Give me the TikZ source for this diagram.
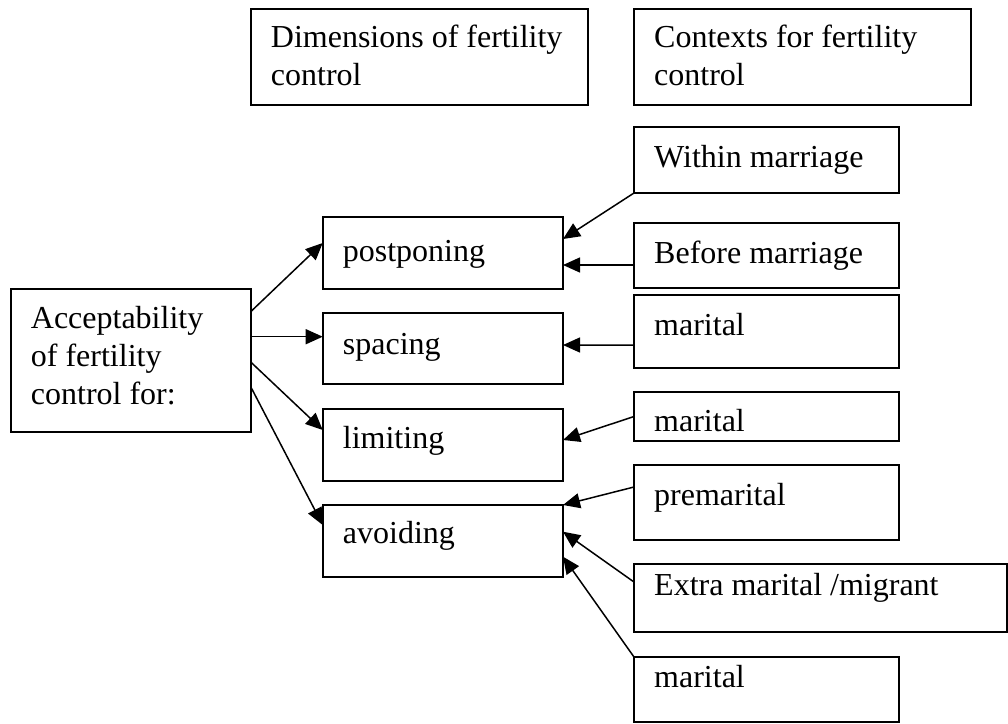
\documentclass[tikz,border=0pt]{standalone}
\usepackage{fontspec}
\setmainfont{Liberation Serif}
\usetikzlibrary{arrows.meta}
\newcommand\tnr{\fontsize{32}{38}\selectfont}
\tikzset{
  box/.style={draw, line width=1.7pt, rectangle, anchor=north west, inner sep=0pt, outer sep=0pt},
  lab/.style={anchor=base west, inner sep=0pt, font=\tnr},
  arr/.style={-{Triangle[length=17pt,width=15pt]}, line width=1.5pt}
}
\begin{document}
\begin{tikzpicture}[x=1pt,y=-1pt]
\useasboundingbox (0,0) rectangle (1008,723);
% header boxes
\node[box, minimum width=337.3pt, minimum height=96pt,
  label={[lab, xshift=20pt, yshift=-38pt]north west:{\parbox[t]{15cm}{Dimensions of fertility\\control}}}] (dim) at (250.7,9) {};
\node[box, minimum width=337pt, minimum height=96pt,
  label={[lab, xshift=20pt, yshift=-38pt]north west:{\parbox[t]{15cm}{Contexts for fertility\\control}}}] (ctx) at (634,9) {};
% left box
\node[box, minimum width=240pt, minimum height=143pt,
  label={[lab, xshift=20pt, yshift=-39pt]north west:{\parbox[t]{15cm}{Acceptability\\of fertility\\control for:}}}] (acc) at (10.7,289) {};
% dimensions
\node[box, minimum width=240.3pt, minimum height=72pt,
  label={[lab, xshift=20pt, yshift=-44.7pt]north west:postponing}] (post) at (322.7,217) {};
\node[box, minimum width=240.3pt, minimum height=71.3pt,
  label={[lab, xshift=20pt, yshift=-42pt]north west:spacing}] (spa) at (322.7,312.7) {};
\node[box, minimum width=240.3pt, minimum height=71.7pt,
  label={[lab, xshift=20pt, yshift=-39pt]north west:limiting}] (lim) at (322.7,409) {};
\node[box, minimum width=240.3pt, minimum height=71.7pt,
  label={[lab, xshift=20pt, yshift=-38pt]north west:avoiding}] (avo) at (322.7,505) {};
% contexts
\node[box, minimum width=265pt, minimum height=66pt,
  label={[lab, xshift=20pt, yshift=-40pt]north west:Within marriage}] (wm) at (634,127) {};
\node[box, minimum width=265pt, minimum height=65pt,
  label={[lab, xshift=20pt, yshift=-40pt]north west:Before marriage}] (bm) at (634,223) {};
\node[box, minimum width=265pt, minimum height=73pt,
  label={[lab, xshift=20pt, yshift=-40pt]north west:marital}] (mar1) at (634,295) {};
\node[box, minimum width=265pt, minimum height=49pt,
  label={[lab, xshift=20pt, yshift=-39pt]north west:marital}] (mar2) at (634,392) {};
\node[box, minimum width=265pt, minimum height=75pt,
  label={[lab, xshift=20pt, yshift=-40pt]north west:premarital}] (pre) at (634,465) {};
\node[box, minimum width=373pt, minimum height=68pt,
  label={[lab, xshift=20pt, yshift=-31pt]north west:Extra marital /migrant}] (ext) at (634,564) {};
\node[box, minimum width=265pt, minimum height=65pt,
  label={[lab, xshift=20pt, yshift=-30pt]north west:marital}] (mar3) at (634,657) {};
% left arrows
\draw[arr] ([yshift=48.8pt]acc.east) -- ([yshift=10pt]post.west);
\draw[arr] ([yshift=23.8pt]acc.east) -- ([yshift=11.65pt]spa.west);
\draw[arr] ([yshift=-1.5pt]acc.east) -- ([yshift=14.85pt]lim.west);
\draw[arr] ([yshift=-26.2pt]acc.east) -- ([yshift=15.85pt]avo.west);
% right arrows
\draw[arr] (wm.south west) -- ([yshift=14pt]post.east);
\draw[arr] ([yshift=-9.5pt]bm.west) -- ([yshift=-12pt]post.east);
\draw[arr] ([yshift=-13.5pt]mar1.west) -- ([yshift=3.35pt]spa.east);
\draw[arr] (mar2.west) -- ([yshift=4.85pt]lim.east);
\draw[arr] ([yshift=15.5pt]pre.west) -- (avo.north east);
\draw[arr] ([yshift=16pt]ext.west) -- ([yshift=9.15pt]avo.east);
\draw[arr] (mar3.north west) -- ([yshift=-15.85pt]avo.east);
\end{tikzpicture}
\end{document}
